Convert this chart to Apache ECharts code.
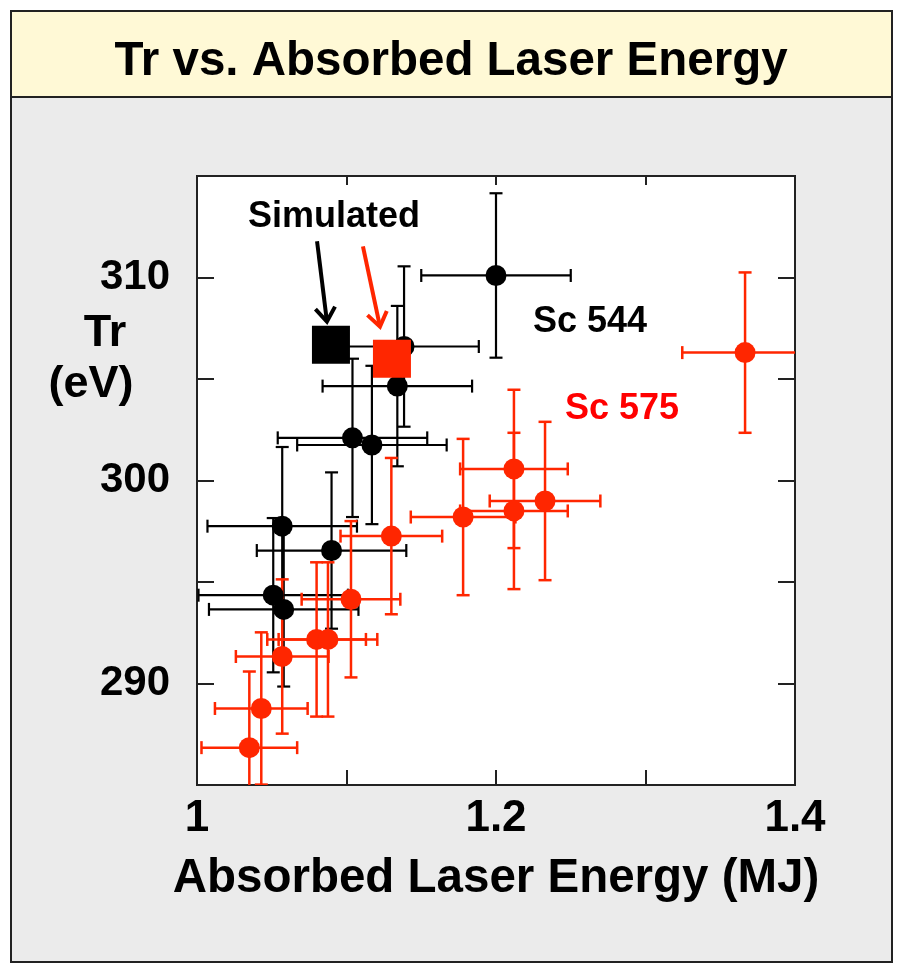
<!DOCTYPE html>
<html>
<head>
<meta charset="utf-8">
<script src="https://cdn.jsdelivr.net/npm/echarts@6/dist/echarts.min.js"></script>
<style>html,body{margin:0;padding:0;background:#fff}#c{width:898px;height:967px}</style>
</head>
<body>
<div id="c"></div>
<script>
// ---- data ----
const sc544X    = [1.200, 1.1385, 1.134, 1.104, 1.117, 1.057, 1.090, 1.051, 1.058];
const sc544Y    = [310.1, 306.6, 304.65, 302.1, 301.75, 297.75, 296.55, 294.35, 293.65];
const sc544XErr = [0.05, 0.05, 0.05, 0.05, 0.05, 0.05, 0.05, 0.05, 0.05];
const sc544YErr = [4.05, 3.95, 3.95, 3.9, 3.9, 3.9, 3.85, 3.8, 3.8];

const sc575X    = [1.3666, 1.212, 1.212, 1.2328, 1.178, 1.103, 1.130, 1.080, 1.0876, 1.057, 1.043, 1.035];
const sc575Y    = [306.3, 300.57, 298.5, 298.99, 298.2, 294.15, 297.26, 292.17, 292.17, 291.33, 288.77, 286.84];
const sc575XErr = [0.042, 0.036, 0.036, 0.037, 0.035, 0.033, 0.034, 0.033, 0.033, 0.031, 0.031, 0.032];
const sc575YErr = [3.95, 3.9, 3.85, 3.9, 3.85, 3.85, 3.85, 3.8, 3.8, 3.8, 3.75, 3.75];

const simulatedX = [1.0896, 1.1304];
const simulatedY = [306.69, 306.0];

const xTicks = [1, 1.2, 1.4];
const yTicks = [290, 300, 310];

// annotations (data coordinates)
const arrowsBlack = [[1.0803, 311.78, 1.0869, 307.83]];
const arrowsRed   = [[1.1110, 311.53, 1.1224, 307.58]];
const labelSimulated = [1.0916, 313.0];
const labelSc544 = [1.2629, 307.78];
const labelSc575 = [1.2843, 303.53];

const FONT = "'Liberation Sans', Arial, Helvetica, sans-serif";
const BLACK = '#000000';
const RED = '#ff2600';

function zip4(a, b, c, d) { return a.map((v, i) => [v, b[i], c[i], d[i]]); }
function zip2(a, b) { return a.map((v, i) => [v, b[i]]); }

function errRender(color, lw) {
  return function (params, api) {
    const x = api.value(0), y = api.value(1), xe = api.value(2), ye = api.value(3);
    const l = api.coord([x - xe, y]), r = api.coord([x + xe, y]);
    const t = api.coord([x, y + ye]), b = api.coord([x, y - ye]);
    const cap = 6.5;
    const st = { stroke: color, lineWidth: lw };
    const ln = (x1, y1, x2, y2) => ({ type: 'line', shape: { x1, y1, x2, y2 }, style: st });
    return {
      type: 'group',
      children: [
        ln(l[0], l[1], r[0], r[1]),
        ln(l[0], l[1] - cap, l[0], l[1] + cap),
        ln(r[0], r[1] - cap, r[0], r[1] + cap),
        ln(t[0], t[1], b[0], b[1]),
        ln(t[0] - cap, t[1], t[0] + cap, t[1]),
        ln(b[0] - cap, b[1], b[0] + cap, b[1])
      ]
    };
  };
}

function arrowRender(color) {
  return function (params, api) {
    const p1 = api.coord([api.value(0), api.value(1)]);
    const p2 = api.coord([api.value(2), api.value(3)]);
    const ang = Math.atan2(p2[1] - p1[1], p2[0] - p1[0]);
    const L = 17, a = 0.62;
    const h1 = [p2[0] - L * Math.cos(ang - a), p2[1] - L * Math.sin(ang - a)];
    const h2 = [p2[0] - L * Math.cos(ang + a), p2[1] - L * Math.sin(ang + a)];
    const st = { stroke: color, lineWidth: 4, fill: null, lineJoin: 'miter', lineCap: 'butt' };
    return {
      type: 'group',
      children: [
        { type: 'line', shape: { x1: p1[0], y1: p1[1], x2: p2[0], y2: p2[1] }, style: st },
        { type: 'polyline', shape: { points: [h1, p2, h2] }, style: st }
      ]
    };
  };
}

function textLabel(pos, text, color) {
  return {
    type: 'scatter', data: [pos], symbolSize: 1, silent: true, z: 10,
    itemStyle: { color: 'rgba(0,0,0,0)', opacity: 1 },
    label: { show: true, position: 'inside', formatter: text, color: color, opacity: 1,
      fontFamily: FONT, fontWeight: 'bold', fontSize: 36 }
  };
}

const chart = echarts.init(document.getElementById('c'), null, { renderer: 'canvas' });

const axisCommon = {
  type: 'value',
  axisLine: { show: true, lineStyle: { color: '#222', width: 2 } },
  splitLine: { show: false }
};

const option = {
  backgroundColor: '#ffffff',
  animation: false,
  graphic: [
    { type: 'rect', z: -100, shape: { x: 11, y: 11, width: 881, height: 951 },
      style: { fill: '#ebebeb', stroke: '#222', lineWidth: 2 } },
    { type: 'rect', z: -99, shape: { x: 11, y: 11, width: 881, height: 86 },
      style: { fill: '#fff9d6', stroke: '#222', lineWidth: 2 } },
    { type: 'text', z: 100, x: 451, y: 62,
      style: { text: 'Tr vs. Absorbed Laser Energy', fontFamily: FONT, fontWeight: 'bold',
        fontSize: 47.5, fill: '#000', textAlign: 'center', textVerticalAlign: 'middle' } },
    { type: 'text', z: 100, x: 105, y: 334,
      style: { text: 'Tr', fontFamily: FONT, fontWeight: 'bold', fontSize: 45, fill: '#000',
        textAlign: 'center', textVerticalAlign: 'middle' } },
    { type: 'text', z: 100, x: 91, y: 385,
      style: { text: '(eV)', fontFamily: FONT, fontWeight: 'bold', fontSize: 45, fill: '#000',
        textAlign: 'center', textVerticalAlign: 'middle' } }
  ],
  grid: { left: 197, top: 176, width: 598, height: 609, show: true,
    backgroundColor: '#ffffff', borderColor: '#222', borderWidth: 2 },
  xAxis: [
    Object.assign({}, axisCommon, {
      min: 1, max: 1.4, interval: 0.1, position: 'bottom',
      axisTick: { show: true, inside: true, length: 15, lineStyle: { color: '#222', width: 2 } },
      axisLabel: { show: true, margin: 12, color: '#000', fontFamily: FONT, fontWeight: 'bold', fontSize: 44,
        formatter: v => xTicks.some(t => Math.abs(t - v) < 1e-6) ? String(+(+v).toFixed(1)) : '' },
      name: 'Absorbed Laser Energy (MJ)', nameLocation: 'middle', nameGap: 70,
      nameTextStyle: { color: '#000', fontFamily: FONT, fontWeight: 'bold', fontSize: 47.5 }
    }),
    Object.assign({}, axisCommon, {
      min: 1, max: 1.4, interval: 0.1, position: 'top',
      axisTick: { show: true, inside: true, length: 9, lineStyle: { color: '#222', width: 2 } },
      axisLabel: { show: false }
    })
  ],
  yAxis: [
    Object.assign({}, axisCommon, {
      min: 285, max: 315, interval: 5, position: 'left',
      axisTick: { show: true, inside: true, length: 17, lineStyle: { color: '#222', width: 2 } },
      axisLabel: { show: true, margin: 27, color: '#000', fontFamily: FONT, fontWeight: 'bold', fontSize: 42,
        formatter: v => yTicks.includes(Math.round(v)) && Math.abs(v - Math.round(v)) < 1e-6 ? String(Math.round(v)) : '' }
    }),
    Object.assign({}, axisCommon, {
      min: 285, max: 315, interval: 5, position: 'right',
      axisTick: { show: true, inside: true, length: 17, lineStyle: { color: '#222', width: 2 } },
      axisLabel: { show: false }
    })
  ],
  series: [
    { type: 'custom', name: 'Sc 544 err', clip: true, z: 2, silent: true,
      renderItem: errRender(BLACK, 2.2), data: zip4(sc544X, sc544Y, sc544XErr, sc544YErr) },
    { type: 'custom', name: 'Sc 575 err', clip: true, z: 2, silent: true,
      renderItem: errRender(RED, 2.5), data: zip4(sc575X, sc575Y, sc575XErr, sc575YErr) },
    { type: 'scatter', name: 'Sc 544', clip: true, z: 3, symbol: 'circle', symbolSize: 21,
      itemStyle: { color: BLACK, opacity: 1 }, data: zip2(sc544X, sc544Y) },
    { type: 'scatter', name: 'Sc 575', clip: true, z: 3, symbol: 'circle', symbolSize: 21,
      itemStyle: { color: RED, opacity: 1 }, data: zip2(sc575X, sc575Y) },
    { type: 'scatter', name: 'Simulated 544', z: 4, symbol: 'rect', symbolSize: 38,
      itemStyle: { color: BLACK, opacity: 1 }, data: [[simulatedX[0], simulatedY[0]]] },
    { type: 'scatter', name: 'Simulated 575', z: 5, symbol: 'rect', symbolSize: 38,
      itemStyle: { color: RED, opacity: 1 }, data: [[simulatedX[1], simulatedY[1]]] },
    { type: 'custom', z: 6, silent: true, renderItem: arrowRender(BLACK), data: arrowsBlack },
    { type: 'custom', z: 6, silent: true, renderItem: arrowRender(RED), data: arrowsRed },
    textLabel(labelSimulated, 'Simulated', '#000'),
    textLabel(labelSc544, 'Sc 544', '#000'),
    textLabel(labelSc575, 'Sc 575', '#ff0000')
  ]
};
chart.setOption(option);
</script>
</body>
</html>
